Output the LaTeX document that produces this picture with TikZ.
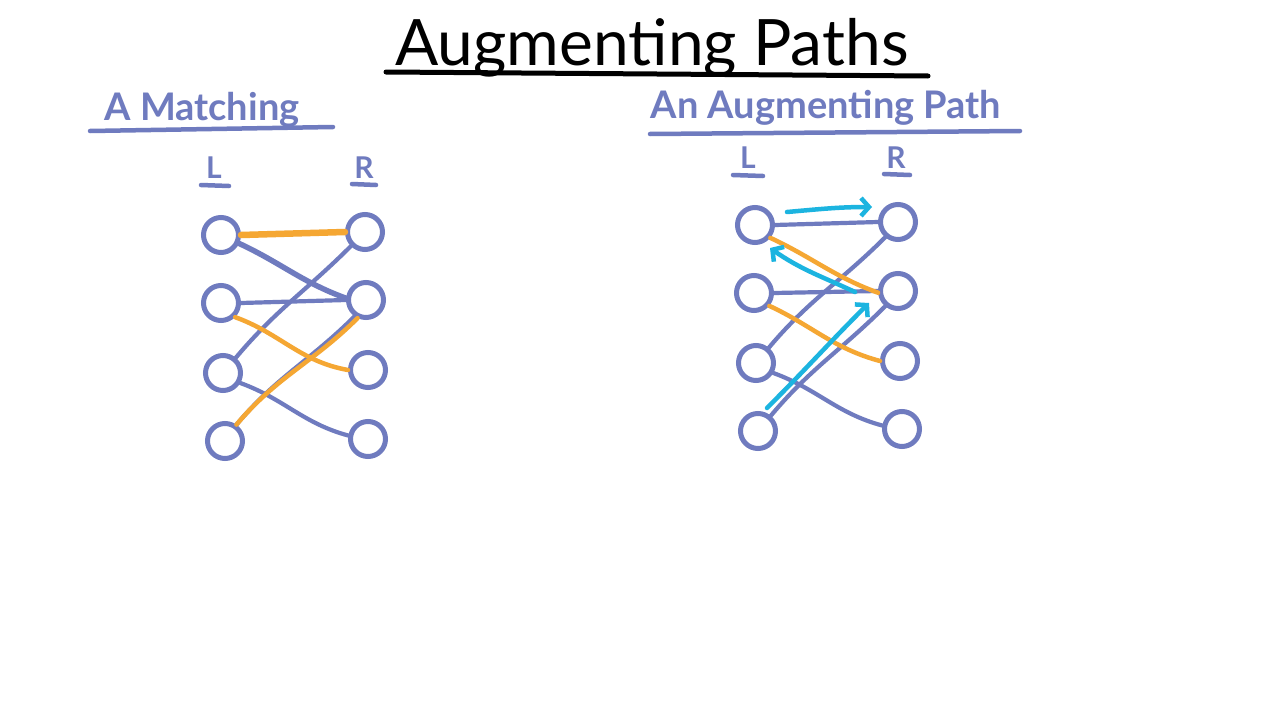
\documentclass[tikz,border=0pt]{standalone}
\usepackage{fontspec}
\setmainfont{Lato}
\usetikzlibrary{arrows.meta}
\definecolor{pblue}{HTML}{6F7BBF}
\definecolor{porange}{HTML}{F5A733}
\definecolor{pcyan}{HTML}{1CB4E0}
\begin{document}
\begin{tikzpicture}[x=1pt,y=1pt,
  vert/.style={circle,draw=pblue,line width=5pt,minimum size=35pt,inner sep=0pt},
  bedge/.style={draw=pblue,line width=4.2pt,line cap=round},
  oedge/.style={draw=porange,line width=4.5pt,line cap=round},
  cedge/.style={draw=pcyan,line width=4.5pt,line cap=round,-{Straight Barb[length=8pt,width=18pt,line width=4.5pt]}},
  head/.style={font=\fontsize{38}{40}\selectfont\bfseries,text=pblue,inner sep=0pt},
  side/.style={font=\fontsize{30}{32}\selectfont\bfseries,text=pblue,inner sep=0pt},
  bline/.style={draw=pblue,line width=4.5pt,line cap=round},
]
\useasboundingbox[fill=white] (0,0) rectangle (1280,-720);

% title
\node[font=\fontsize{64}{66}\selectfont,inner sep=0pt] (title) at (652,-48) {Augmenting Paths};
\coordinate (tu1) at (386,-72);
\coordinate (tu2) at (928,-76);
\draw[line width=5pt,line cap=round] (tu1) -- (tu2);

% left headings
\node[head] (hA) at (202,-110) {A Matching};
\coordinate (hAu1) at (90,-131);
\coordinate (hAu2) at (333,-127);
\draw[bline] (hAu1) -- (hAu2);
\node[side] (lL) at (214,-168) {L};
\coordinate (lLu1) at (201,-185);
\coordinate (lLu2) at (229,-186);
\draw[bline] (lLu1) -- (lLu2);
\node[side] (lR) at (364,-168) {R};
\coordinate (lRu1) at (352,-184);
\coordinate (lRu2) at (376,-185);
\draw[bline] (lRu1) -- (lRu2);

% right headings
\node[head] (hB) at (826,-108) {An Augmenting Path};
\coordinate (hBu1) at (650,-134);
\coordinate (hBu2) at (1020,-131);
\draw[bline] (hBu1) -- (hBu2);
\node[side] (rL) at (748,-158) {L};
\coordinate (rLu1) at (733,-175);
\coordinate (rLu2) at (763,-176);
\draw[bline] (rLu1) -- (rLu2);
\node[side] (rR) at (896,-158) {R};
\coordinate (rRu1) at (884,-174);
\coordinate (rRu2) at (910,-175);
\draw[bline] (rRu1) -- (rRu2);

% left graph vertices
\node[vert] (a1) at (221,-235) {};
\node[vert] (a2) at (221,-303) {};
\node[vert] (a3) at (223,-373) {};
\node[vert] (a4) at (225,-441) {};
\node[vert] (b1) at (365,-232) {};
\node[vert] (b2) at (366,-300) {};
\node[vert] (b3) at (368,-370) {};
\node[vert] (b4) at (368,-439) {};

% left edges
\draw[bedge,line width=5.5pt] (a1.-25) to[out=-25,in=160] (b2.175);
\draw[bedge] (a2.east) -- (b2.west);
\draw[bedge] (a3.50) to[out=50,in=225] (b1.225);
\draw[bedge] (a3.-30) to[out=-20,in=165] (b4.170);
\draw[bedge] (a4.55) to[out=50,in=225] (b2.235);
\draw[oedge,line width=6.5pt] (a1.east) -- (b1.west);
\draw[oedge] (a2.-45) to[out=-20,in=170] (b3.180);
\draw[oedge] (a4.55) to[out=50,in=225] (b2.-115);

% right graph vertices
\node[vert] (c1) at (755,-225) {};
\node[vert] (c2) at (754,-293) {};
\node[vert] (c3) at (756,-363) {};
\node[vert] (c4) at (758,-431) {};
\node[vert] (d1) at (898,-222) {};
\node[vert] (d2) at (898,-291) {};
\node[vert] (d3) at (900,-361) {};
\node[vert] (d4) at (902,-429) {};

% right edges
\draw[bedge] (c1.east) -- (d1.west);
\draw[bedge] (c2.east) -- (d2.west);
\draw[bedge] (c3.50) to[out=50,in=225] (d1.230);
\draw[bedge] (c4.50) to[out=50,in=225] (d2.230);
\draw[bedge] (c3.-30) to[out=-20,in=165] (d4.170);
\draw[oedge] (c1.-40) to[out=-25,in=160] (d2.185);
\draw[oedge] (c2.-40) to[out=-25,in=165] (d3.180);

% cyan arrows
\coordinate (p1s) at (787,-212);
\coordinate (p1e) at (872,-207);
\coordinate (p2s) at (855,-292);
\coordinate (p2e) at (770,-248);
\coordinate (p3s) at (767,-408);
\coordinate (p3e) at (869,-303);
\draw[cedge] (p1s) to[out=5,in=180] (p1e);
\draw[cedge] (p2s) to[out=155,in=-35] (p2e);
\draw[cedge] (p3s) to[out=45,in=225] (p3e);
\end{tikzpicture}
\end{document}
